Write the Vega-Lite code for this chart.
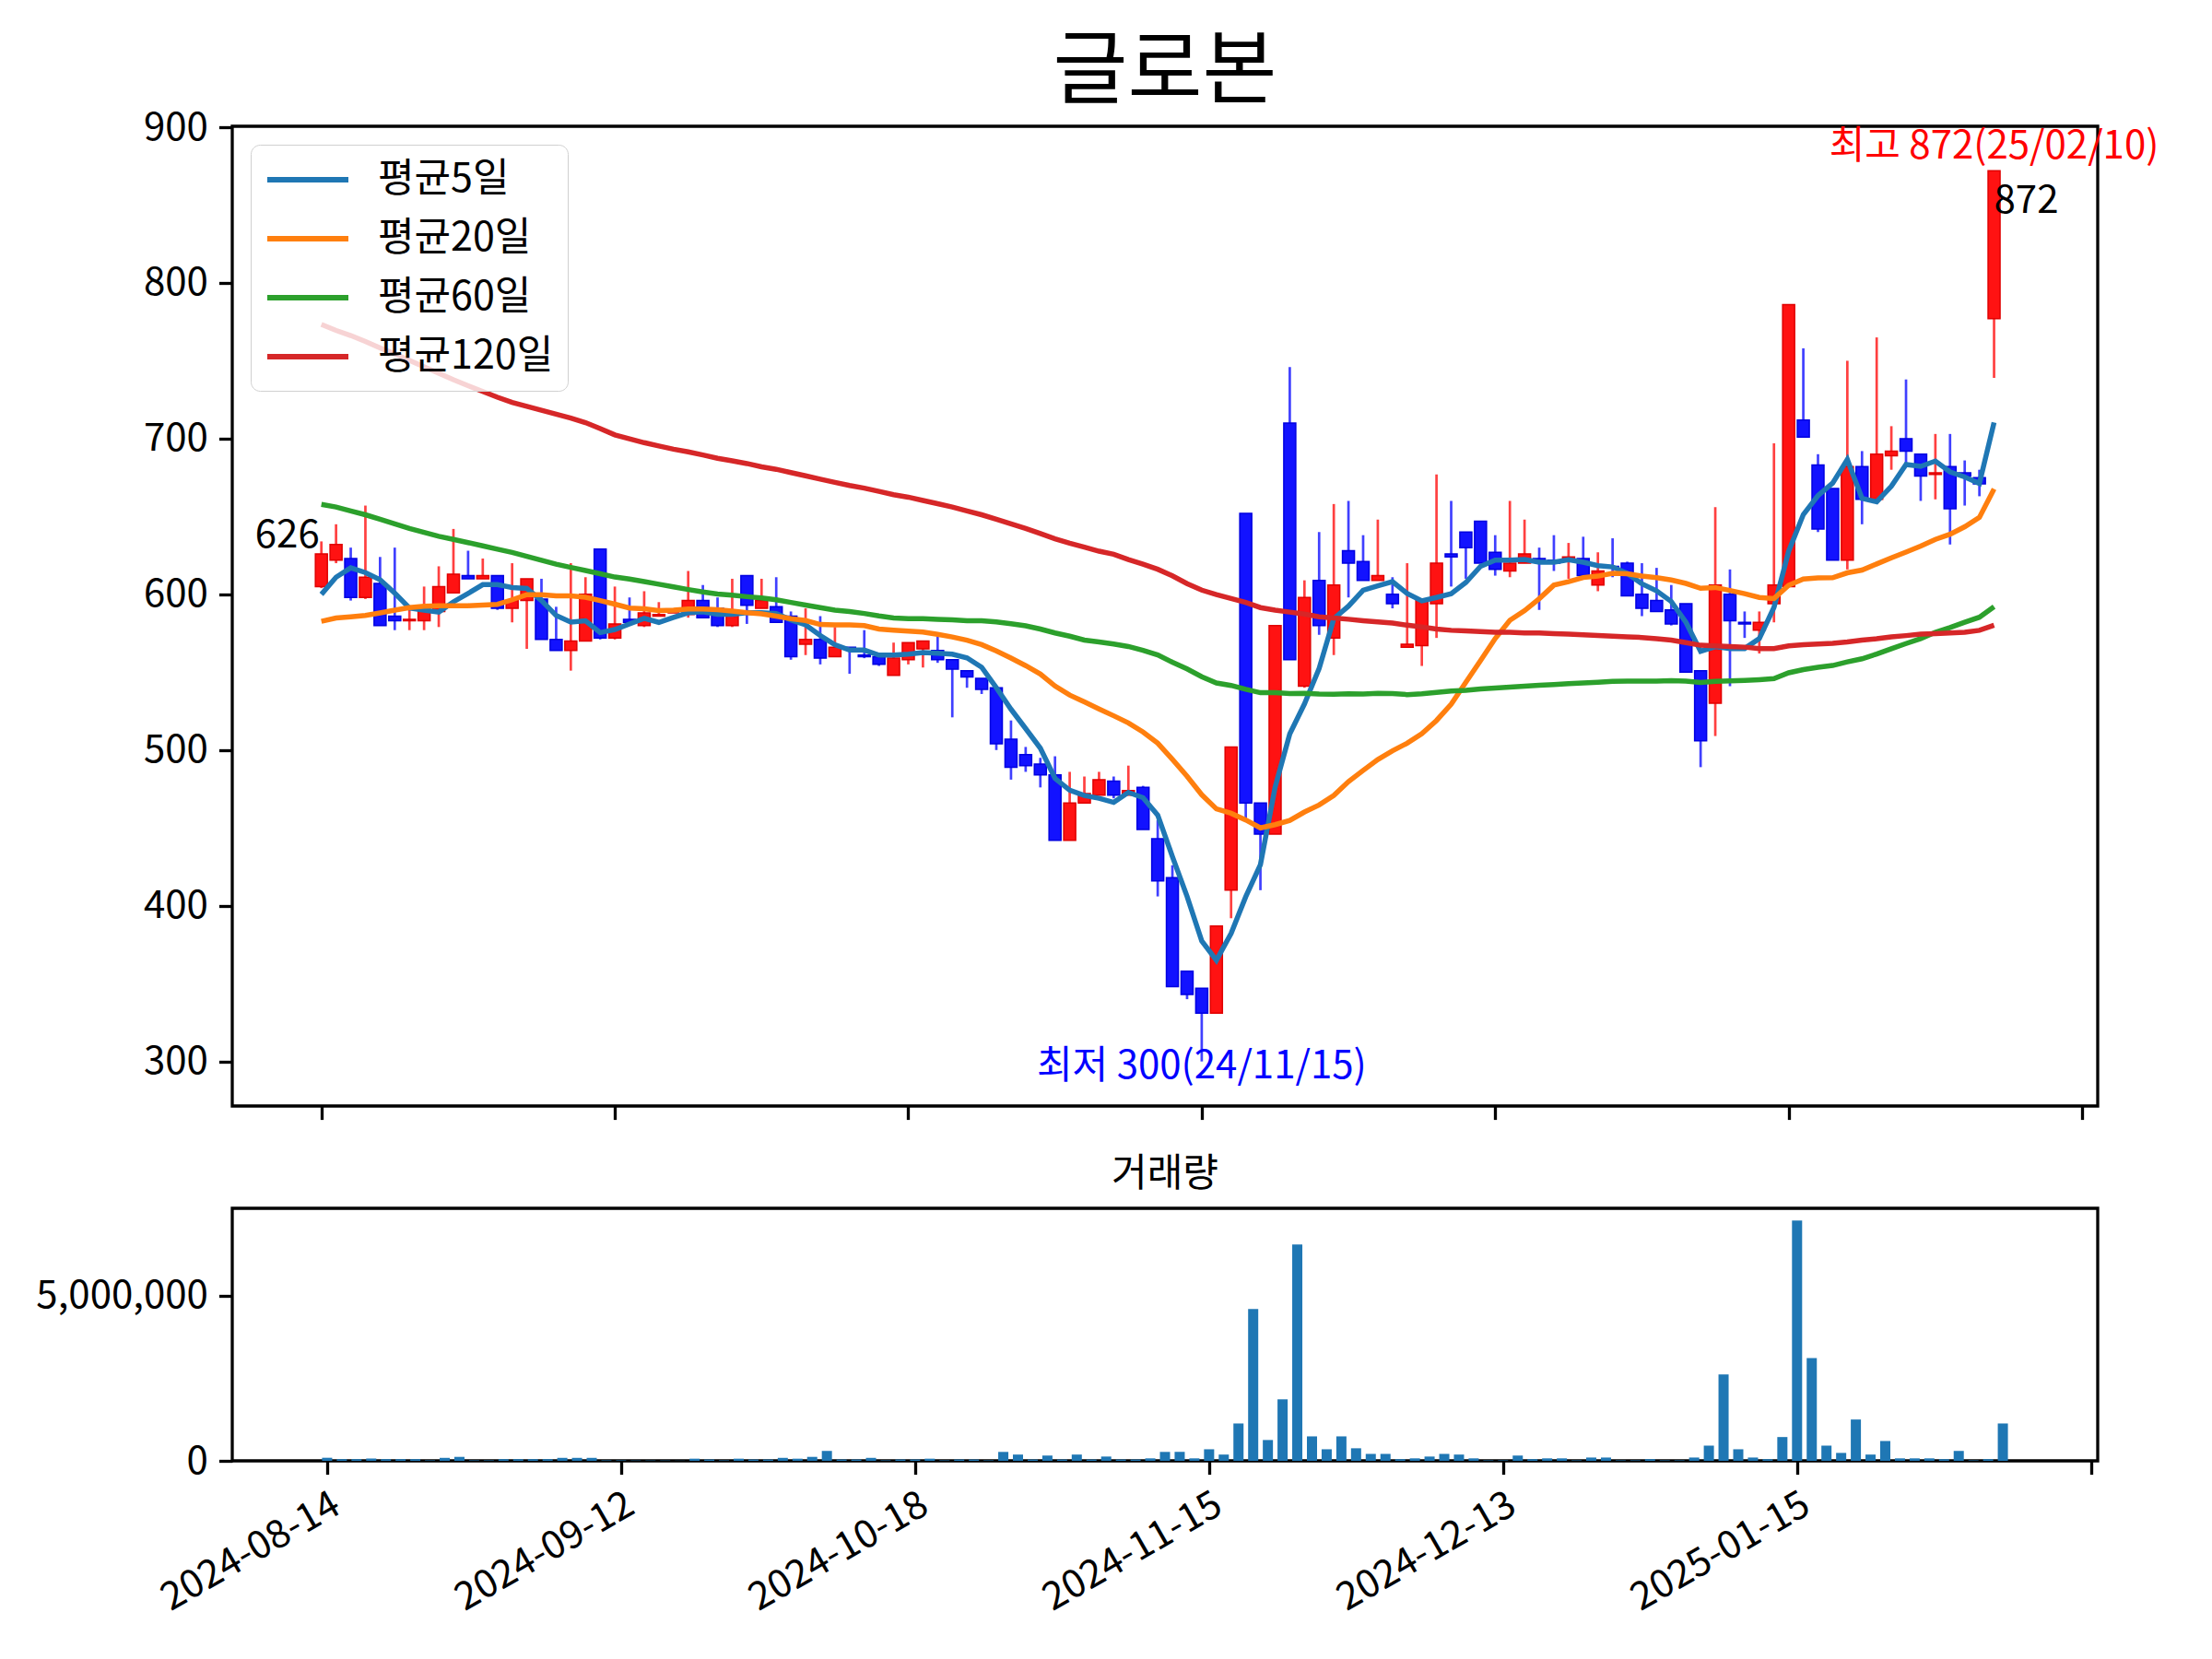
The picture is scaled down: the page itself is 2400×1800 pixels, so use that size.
{
  "$schema": "https://vega.github.io/schema/vega-lite/v6.json",
  "background": "white",
  "padding": {"left": 37, "top": 33, "right": 20, "bottom": 20},
  "config": {
    "font": "Noto Sans CJK KR",
    "view": {"stroke": "black", "strokeWidth": 3.3},
    "axis": {
      "grid": false,
      "domain": false,
      "ticks": true,
      "tickColor": "black",
      "tickWidth": 3.3,
      "tickSize": 14.6,
      "labelFont": "Noto Sans CJK KR",
      "labelFontSize": 42,
      "labelColor": "black",
      "labelPadding": 12,
      "labelLimit": 600,
      "title": null
    },
    "title": {"font": "Noto Sans CJK KR", "color": "black", "fontWeight": "normal"},
    "text": {"font": "Noto Sans CJK KR"}
  },
  "datasets": {
    "ohlc": [
      {"i":0,"open":605,"high":634,"low":604,"close":626,"volume":93000,"ma5":600,"ma20":582.7,"ma60":657.8,"ma120":773.3},
      {"i":1,"open":622,"high":645,"low":620,"close":632,"volume":50000,"ma5":611,"ma20":584.8,"ma60":656.1,"ma120":769.5},
      {"i":2,"open":623,"high":630,"low":596,"close":598,"volume":50000,"ma5":617,"ma20":585.6,"ma60":653.6,"ma120":766.2},
      {"i":3,"open":598,"high":657,"low":597,"close":611,"volume":70000,"ma5":614,"ma20":586.5,"ma60":651.1,"ma120":762.4},
      {"i":4,"open":607,"high":624,"low":580,"close":580,"volume":50000,"ma5":609.4,"ma20":588.1,"ma60":648.2,"ma120":758.2},
      {"i":5,"open":586,"high":630,"low":577,"close":583,"volume":50000,"ma5":600.8,"ma20":589.8,"ma60":645.3,"ma120":754.5},
      {"i":6,"open":583,"high":592,"low":577,"close":584,"volume":50000,"ma5":591.2,"ma20":591.5,"ma60":642.3,"ma120":750.3},
      {"i":7,"open":583,"high":605,"low":577,"close":591,"volume":15000,"ma5":589.8,"ma20":592.3,"ma60":639.8,"ma120":746.1},
      {"i":8,"open":589,"high":618,"low":579,"close":605,"volume":90000,"ma5":588.6,"ma20":592.7,"ma60":637.3,"ma120":742},
      {"i":9,"open":601,"high":642,"low":601,"close":613,"volume":120000,"ma5":595.2,"ma20":592.7,"ma60":635.3,"ma120":737.8},
      {"i":10,"open":612,"high":628,"low":610,"close":610,"volume":15000,"ma5":600.6,"ma20":592.7,"ma60":633.2,"ma120":734},
      {"i":11,"open":610,"high":623,"low":610,"close":612,"volume":15000,"ma5":606.2,"ma20":593.1,"ma60":631.1,"ma120":730.3},
      {"i":12,"open":612,"high":612,"low":590,"close":591,"volume":50000,"ma5":606.2,"ma20":593.6,"ma60":629,"ma120":726.6},
      {"i":13,"open":591,"high":620,"low":582,"close":596,"volume":50000,"ma5":604.4,"ma20":596.5,"ma60":626.9,"ma120":723.2},
      {"i":14,"open":596,"high":610,"low":565,"close":610,"volume":50000,"ma5":603.8,"ma20":599.8,"ma60":624.4,"ma120":720.7},
      {"i":15,"open":597,"high":610,"low":571,"close":571,"volume":50000,"ma5":596,"ma20":599.8,"ma60":621.9,"ma120":718.2},
      {"i":16,"open":571,"high":592,"low":564,"close":564,"volume":90000,"ma5":586.4,"ma20":599,"ma60":619.4,"ma120":715.7},
      {"i":17,"open":564,"high":620,"low":551,"close":570,"volume":90000,"ma5":582.2,"ma20":599,"ma60":617.3,"ma120":713.2},
      {"i":18,"open":570,"high":611,"low":570,"close":600,"volume":90000,"ma5":583,"ma20":598.1,"ma60":615.3,"ma120":710.3},
      {"i":19,"open":629,"high":629,"low":571,"close":572,"volume":15000,"ma5":575.4,"ma20":596,"ma60":613.2,"ma120":706.5},
      {"i":20,"open":572,"high":605,"low":571,"close":581,"volume":15000,"ma5":577.4,"ma20":593.7,"ma60":611.1,"ma120":702.4},
      {"i":21,"open":584,"high":598,"low":580,"close":582,"volume":10000,"ma5":581,"ma20":591.2,"ma60":609.8,"ma120":699.9},
      {"i":22,"open":580,"high":602,"low":579,"close":588,"volume":10000,"ma5":584.6,"ma20":590.7,"ma60":608.2,"ma120":697.4},
      {"i":23,"open":586,"high":595,"low":586,"close":587,"volume":10000,"ma5":582,"ma20":589.5,"ma60":606.5,"ma120":695.3},
      {"i":24,"open":588,"high":588,"low":588,"close":588,"volume":5000,"ma5":585.2,"ma20":589.9,"ma60":604.8,"ma120":693.2},
      {"i":25,"open":587,"high":615,"low":585,"close":596,"volume":65000,"ma5":588.2,"ma20":590.6,"ma60":603.1,"ma120":691.5},
      {"i":26,"open":596,"high":606,"low":585,"close":585,"volume":40000,"ma5":588.8,"ma20":590.6,"ma60":601.5,"ma120":689.5},
      {"i":27,"open":591,"high":598,"low":579,"close":580,"volume":15000,"ma5":587.2,"ma20":590.1,"ma60":600.2,"ma120":687.4},
      {"i":28,"open":580,"high":610,"low":579,"close":587,"volume":65000,"ma5":587.2,"ma20":589.2,"ma60":599.4,"ma120":685.7},
      {"i":29,"open":612,"high":612,"low":581,"close":593,"volume":40000,"ma5":588.2,"ma20":588.2,"ma60":598.5,"ma120":684},
      {"i":30,"open":591,"high":610,"low":591,"close":596,"volume":40000,"ma5":588.2,"ma20":587.5,"ma60":597.7,"ma120":681.9},
      {"i":31,"open":592,"high":611,"low":582,"close":582,"volume":90000,"ma5":587.6,"ma20":586,"ma60":596.5,"ma120":680.3},
      {"i":32,"open":586,"high":589,"low":558,"close":560,"volume":65000,"ma5":583.6,"ma20":584.4,"ma60":594.8,"ma120":678.2},
      {"i":33,"open":568,"high":591,"low":561,"close":571,"volume":120000,"ma5":580.4,"ma20":583.2,"ma60":593.1,"ma120":676.1},
      {"i":34,"open":571,"high":586,"low":555,"close":559,"volume":300000,"ma5":573.6,"ma20":580.6,"ma60":591.5,"ma120":674},
      {"i":35,"open":560,"high":579,"low":560,"close":566,"volume":40000,"ma5":567.6,"ma20":580.4,"ma60":589.8,"ma120":671.9},
      {"i":36,"open":566,"high":566,"low":549,"close":565,"volume":40000,"ma5":564.2,"ma20":580.4,"ma60":589,"ma120":669.9},
      {"i":37,"open":561,"high":577,"low":559,"close":560,"volume":90000,"ma5":564.2,"ma20":579.9,"ma60":587.7,"ma120":668.2},
      {"i":38,"open":560,"high":560,"low":554,"close":555,"volume":15000,"ma5":561,"ma20":577.7,"ma60":586.1,"ma120":666.1},
      {"i":39,"open":548,"high":569,"low":548,"close":559,"volume":40000,"ma5":561,"ma20":577,"ma60":584.8,"ma120":664},
      {"i":40,"open":558,"high":569,"low":555,"close":569,"volume":40000,"ma5":561.6,"ma20":576.4,"ma60":584.4,"ma120":662.4},
      {"i":41,"open":565,"high":570,"low":553,"close":570,"volume":65000,"ma5":562.6,"ma20":575.8,"ma60":584.4,"ma120":660.3},
      {"i":42,"open":564,"high":573,"low":556,"close":558,"volume":15000,"ma5":562.2,"ma20":574.3,"ma60":584,"ma120":658.2},
      {"i":43,"open":558,"high":558,"low":521,"close":552,"volume":40000,"ma5":561.6,"ma20":572.6,"ma60":583.6,"ma120":656.1},
      {"i":44,"open":551,"high":551,"low":540,"close":547,"volume":40000,"ma5":559.2,"ma20":570.5,"ma60":583.1,"ma120":653.6},
      {"i":45,"open":546,"high":546,"low":536,"close":539,"volume":15000,"ma5":553.2,"ma20":567.7,"ma60":583.1,"ma120":651.1},
      {"i":46,"open":540,"high":540,"low":500,"close":504,"volume":270000,"ma5":540,"ma20":563.6,"ma60":582.3,"ma120":648.2},
      {"i":47,"open":507,"high":519,"low":481,"close":489,"volume":190000,"ma5":526.2,"ma20":559.1,"ma60":581.1,"ma120":645.3},
      {"i":48,"open":497,"high":502,"low":486,"close":490,"volume":40000,"ma5":513.8,"ma20":554.2,"ma60":579.8,"ma120":642.3},
      {"i":49,"open":491,"high":495,"low":476,"close":484,"volume":160000,"ma5":501.2,"ma20":548.8,"ma60":577.7,"ma120":639},
      {"i":50,"open":484,"high":496,"low":442,"close":442,"volume":40000,"ma5":481.8,"ma20":541.1,"ma60":575.2,"ma120":635.7},
      {"i":51,"open":442,"high":486,"low":442,"close":466,"volume":190000,"ma5":474.2,"ma20":535.3,"ma60":573.1,"ma120":632.8},
      {"i":52,"open":466,"high":483,"low":466,"close":472,"volume":40000,"ma5":470.8,"ma20":530.9,"ma60":570.6,"ma120":630.3},
      {"i":53,"open":471,"high":486,"low":471,"close":481,"volume":130000,"ma5":469,"ma20":526.4,"ma60":569.4,"ma120":627.7},
      {"i":54,"open":480,"high":483,"low":469,"close":471,"volume":40000,"ma5":466.4,"ma20":522,"ma60":568.1,"ma120":625.7},
      {"i":55,"open":471,"high":490,"low":471,"close":474,"volume":40000,"ma5":472.8,"ma20":517.4,"ma60":566.5,"ma120":622.3},
      {"i":56,"open":476,"high":477,"low":449,"close":449,"volume":75000,"ma5":469.4,"ma20":511.6,"ma60":564,"ma120":619.4},
      {"i":57,"open":443,"high":455,"low":406,"close":416,"volume":270000,"ma5":458.2,"ma20":504.4,"ma60":561.1,"ma120":616.1},
      {"i":58,"open":418,"high":426,"low":348,"close":348,"volume":270000,"ma5":431.6,"ma20":494,"ma60":556.4,"ma120":611.9},
      {"i":59,"open":358,"high":358,"low":340,"close":343,"volume":75000,"ma5":406,"ma20":483.2,"ma60":552.1,"ma120":606.9},
      {"i":60,"open":347,"high":347,"low":300,"close":331,"volume":350000,"ma5":377.4,"ma20":471.3,"ma60":547.1,"ma120":602.7},
      {"i":61,"open":331,"high":387,"low":331,"close":387,"volume":190000,"ma5":365,"ma20":462.2,"ma60":543.1,"ma120":599.8},
      {"i":62,"open":410,"high":502,"low":392,"close":502,"volume":1130000,"ma5":382.2,"ma20":459.4,"ma60":541.5,"ma120":597.3},
      {"i":63,"open":652,"high":652,"low":456,"close":466,"volume":4590000,"ma5":405.8,"ma20":455.1,"ma60":539,"ma120":594.8},
      {"i":64,"open":466,"high":466,"low":410,"close":446,"volume":630000,"ma5":426.4,"ma20":450,"ma60":536.8,"ma120":591.5},
      {"i":65,"open":446,"high":580,"low":446,"close":580,"volume":1860000,"ma5":476.2,"ma20":452.1,"ma60":536.8,"ma120":589.8},
      {"i":66,"open":710,"high":746,"low":558,"close":558,"volume":6540000,"ma5":510.4,"ma20":454.8,"ma60":536.3,"ma120":588.6},
      {"i":67,"open":541,"high":609,"low":540,"close":598,"volume":740000,"ma5":529.6,"ma20":460.2,"ma60":536.4,"ma120":587.3},
      {"i":68,"open":609,"high":640,"low":574,"close":580,"volume":350000,"ma5":552.4,"ma20":464.7,"ma60":536,"ma120":585.6},
      {"i":69,"open":572,"high":658,"low":561,"close":606,"volume":740000,"ma5":584.4,"ma20":470.8,"ma60":535.9,"ma120":584.8},
      {"i":70,"open":628,"high":660,"low":598,"close":620,"volume":380000,"ma5":592.4,"ma20":479.7,"ma60":536.1,"ma120":584},
      {"i":71,"open":621,"high":638,"low":609,"close":609,"volume":210000,"ma5":602.6,"ma20":486.9,"ma60":536,"ma120":583.1},
      {"i":72,"open":609,"high":648,"low":609,"close":612,"volume":210000,"ma5":605.4,"ma20":493.9,"ma60":536.4,"ma120":582.3},
      {"i":73,"open":600,"high":611,"low":591,"close":594,"volume":50000,"ma5":608.2,"ma20":499.5,"ma60":536.3,"ma120":581.5},
      {"i":74,"open":566,"high":620,"low":566,"close":568,"volume":75000,"ma5":600.6,"ma20":504.4,"ma60":535.6,"ma120":580.2},
      {"i":75,"open":567,"high":596,"low":554,"close":596,"volume":130000,"ma5":595.8,"ma20":510.5,"ma60":536.1,"ma120":579},
      {"i":76,"open":594,"high":677,"low":572,"close":620,"volume":210000,"ma5":598,"ma20":519,"ma60":537,"ma120":577.7},
      {"i":77,"open":626,"high":660,"low":605,"close":624,"volume":190000,"ma5":600.4,"ma20":529.4,"ma60":537.9,"ma120":576.9},
      {"i":78,"open":640,"high":640,"low":610,"close":630,"volume":75000,"ma5":607.6,"ma20":543.5,"ma60":538.4,"ma120":576.5},
      {"i":79,"open":647,"high":647,"low":620,"close":620,"volume":15000,"ma5":618,"ma20":557.4,"ma60":539.2,"ma120":576.1},
      {"i":80,"open":627,"high":638,"low":612,"close":616,"volume":15000,"ma5":622,"ma20":571.6,"ma60":539.8,"ma120":575.7},
      {"i":81,"open":615,"high":660,"low":611,"close":620,"volume":160000,"ma5":622,"ma20":583.3,"ma60":540.4,"ma120":575.7},
      {"i":82,"open":620,"high":648,"low":620,"close":626,"volume":50000,"ma5":622.4,"ma20":589.5,"ma60":541,"ma120":575.2},
      {"i":83,"open":623,"high":630,"low":590,"close":621,"volume":75000,"ma5":620.6,"ma20":597.2,"ma60":541.6,"ma120":575.2},
      {"i":84,"open":622,"high":638,"low":615,"close":620,"volume":75000,"ma5":620.6,"ma20":605.9,"ma60":542.1,"ma120":574.8},
      {"i":85,"open":621,"high":633,"low":610,"close":624,"volume":15000,"ma5":622.2,"ma20":608.1,"ma60":542.6,"ma120":574.4},
      {"i":86,"open":623,"high":637,"low":611,"close":612,"volume":100000,"ma5":620.6,"ma20":610.8,"ma60":543.1,"ma120":574},
      {"i":87,"open":606,"high":627,"low":602,"close":615,"volume":100000,"ma5":618.4,"ma20":611.7,"ma60":543.6,"ma120":573.5},
      {"i":88,"open":618,"high":636,"low":611,"close":617,"volume":15000,"ma5":617.6,"ma20":613.5,"ma60":544.1,"ma120":573.1},
      {"i":89,"open":620,"high":621,"low":599,"close":599,"volume":15000,"ma5":613.4,"ma20":613.2,"ma60":544.2,"ma120":572.7},
      {"i":90,"open":600,"high":620,"low":586,"close":591,"volume":50000,"ma5":606.8,"ma20":611.7,"ma60":544.2,"ma120":572.3},
      {"i":91,"open":596,"high":617,"low":589,"close":589,"volume":15000,"ma5":602.2,"ma20":610.7,"ma60":544.3,"ma120":571.5},
      {"i":92,"open":590,"high":606,"low":580,"close":581,"volume":15000,"ma5":595.4,"ma20":609.2,"ma60":544.6,"ma120":570.6},
      {"i":93,"open":594,"high":594,"low":550,"close":550,"volume":100000,"ma5":582,"ma20":607,"ma60":544.3,"ma120":569},
      {"i":94,"open":551,"high":551,"low":489,"close":506,"volume":460000,"ma5":563.4,"ma20":603.9,"ma60":543.4,"ma120":567.3},
      {"i":95,"open":530,"high":656,"low":509,"close":606,"volume":2610000,"ma5":566.4,"ma20":604.4,"ma60":544.1,"ma120":566.9},
      {"i":96,"open":600,"high":616,"low":541,"close":583,"volume":350000,"ma5":565.2,"ma20":602.5,"ma60":544.4,"ma120":566.5},
      {"i":97,"open":582,"high":589,"low":572,"close":581,"volume":100000,"ma5":565.2,"ma20":600.4,"ma60":544.7,"ma120":566.1},
      {"i":98,"open":577,"high":589,"low":562,"close":582,"volume":50000,"ma5":571.6,"ma20":598,"ma60":545.2,"ma120":565.2},
      {"i":99,"open":594,"high":697,"low":582,"close":606,"volume":720000,"ma5":591.6,"ma20":597.3,"ma60":545.9,"ma120":565.2},
      {"i":100,"open":605,"high":786,"low":605,"close":786,"volume":7270000,"ma5":627.6,"ma20":605.8,"ma60":549.6,"ma120":566.9},
      {"i":101,"open":712,"high":758,"low":701,"close":701,"volume":3110000,"ma5":651.2,"ma20":609.8,"ma60":551.7,"ma120":567.7},
      {"i":102,"open":683,"high":690,"low":640,"close":642,"volume":460000,"ma5":663.4,"ma20":610.6,"ma60":553.1,"ma120":568.1},
      {"i":103,"open":668,"high":668,"low":622,"close":622,"volume":240000,"ma5":671.4,"ma20":610.7,"ma60":554.3,"ma120":568.6},
      {"i":104,"open":622,"high":750,"low":616,"close":682,"volume":1250000,"ma5":686.6,"ma20":613.8,"ma60":556.6,"ma120":569.4},
      {"i":105,"open":682,"high":692,"low":645,"close":661,"volume":190000,"ma5":661.6,"ma20":615.6,"ma60":558.6,"ma120":570.6},
      {"i":106,"open":661,"high":765,"low":661,"close":690,"volume":600000,"ma5":659.4,"ma20":619.5,"ma60":561.7,"ma120":571.5},
      {"i":107,"open":689,"high":708,"low":680,"close":692,"volume":75000,"ma5":669.4,"ma20":623.4,"ma60":565.1,"ma120":572.7},
      {"i":108,"open":700,"high":738,"low":684,"close":692,"volume":75000,"ma5":683.4,"ma20":627.1,"ma60":568.4,"ma120":573.5},
      {"i":109,"open":690,"high":690,"low":660,"close":676,"volume":75000,"ma5":682.2,"ma20":631,"ma60":571.6,"ma120":574.4},
      {"i":110,"open":677,"high":703,"low":661,"close":678,"volume":50000,"ma5":685.6,"ma20":635.3,"ma60":575.6,"ma120":574.8},
      {"i":111,"open":682,"high":703,"low":632,"close":655,"volume":300000,"ma5":678.6,"ma20":638.6,"ma60":578.7,"ma120":575.2},
      {"i":112,"open":678,"high":686,"low":657,"close":676,"volume":15000,"ma5":675.4,"ma20":643.4,"ma60":582.1,"ma120":575.7},
      {"i":113,"open":675,"high":680,"low":663,"close":671,"volume":50000,"ma5":671.2,"ma20":649.4,"ma60":585.3,"ma120":576.9},
      {"i":114,"open":777,"high":872,"low":739,"close":872,"volume":1130000,"ma5":710.4,"ma20":667.7,"ma60":592,"ma120":580.2}
    ]
  },
  "spacing": 111,
  "bounds": "flush",
  "vconcat": [
    {
      "width": 2024,
      "height": 1063,
      "title": {"text": "글로본", "fontSize": 88, "offset": -6},
      "data": {"name": "ohlc"},
      "encoding": {
        "x": {
          "field": "i",
          "type": "quantitative",
          "scale": {"domain": [-5.76, 120.75], "nice": false, "zero": false},
          "axis": {"values": [0, 20, 40, 60, 80, 100, 120], "labels": false}
        }
      },
      "layer": [
        {
          "mark": {"type": "rule", "strokeWidth": 2.7},
          "encoding": {
            "y": {
              "field": "low",
              "type": "quantitative",
              "scale": {"domain": [271.4, 900.6], "nice": false, "zero": false},
              "axis": {"values": [300, 400, 500, 600, 700, 800, 900]}
            },
            "y2": {"field": "high"},
            "color": {
              "condition": {"test": "datum.close >= datum.open", "value": "#ff4040"},
              "value": "#4040ff"
            }
          }
        },
        {
          "mark": {"type": "bar", "width": 13, "strokeWidth": 1.5},
          "encoding": {
            "y": {"field": "open", "type": "quantitative"},
            "y2": {"field": "close"},
            "fill": {
              "condition": {"test": "datum.close >= datum.open", "value": "#ff1212"},
              "value": "#1212ff"
            },
            "stroke": {
              "condition": {"test": "datum.close >= datum.open", "value": "#e00000"},
              "value": "#0000e0"
            }
          }
        },
        {
          "transform": [{"fold": ["ma5", "ma20", "ma60", "ma120"], "as": ["ma", "val"]}],
          "mark": {"type": "line", "strokeWidth": 5.5},
          "encoding": {
            "y": {"field": "val", "type": "quantitative"},
            "color": {
              "field": "ma",
              "type": "nominal",
              "scale": {
                "domain": ["ma5", "ma20", "ma60", "ma120"],
                "range": ["#1f77b4", "#ff7f0e", "#2ca02c", "#d62728"]
              },
              "legend": {
                "title": null,
                "orient": "top-left",
                "offset": 20,
                "padding": 15,
                "rowPadding": 19,
                "symbolType": "M-1,0H3.4",
                "symbolSize": 1600,
                "symbolStrokeWidth": 6,
                "labelFont": "Noto Sans CJK KR",
                "labelFontSize": 43,
                "labelColor": "black",
                "labelOffset": 77,
                "labelLimit": 600,
                "fillColor": "rgba(255,255,255,0.8)",
                "strokeColor": "#d0d0d0",
                "cornerRadius": 10,
                "labelExpr": "datum.label == 'ma5' ? '평균5일' : datum.label == 'ma20' ? '평균20일' : datum.label == 'ma60' ? '평균60일' : '평균120일'"
              }
            },
            "strokeWidth": {
              "condition": {"test": "datum.ma == 'ma5'", "value": 7},
              "value": 5.5
            }
          }
        },
        {
          "transform": [{"filter": "datum.i == 0"}],
          "mark": {"type": "text", "align": "right", "baseline": "middle", "dx": -2, "dy": -20, "fontSize": 42, "color": "black"},
          "encoding": {
            "y": {"field": "close", "type": "quantitative"},
            "text": {"field": "close", "type": "quantitative"}
          }
        },
        {
          "transform": [{"filter": "datum.i == 114"}],
          "mark": {"type": "text", "align": "left", "baseline": "middle", "dx": 0, "dy": 33, "fontSize": 42, "color": "black"},
          "encoding": {
            "y": {"field": "close", "type": "quantitative"},
            "text": {"field": "close", "type": "quantitative"}
          }
        },
        {
          "transform": [{"filter": "datum.i == 114"}],
          "mark": {"type": "text", "align": "center", "baseline": "middle", "dy": -26, "fontSize": 42, "color": "red"},
          "encoding": {
            "y": {"field": "high", "type": "quantitative"},
            "text": {"value": "최고 872(25/02/10)"}
          }
        },
        {
          "transform": [{"filter": "datum.i == 60"}],
          "mark": {"type": "text", "align": "center", "baseline": "middle", "dy": 5, "fontSize": 42, "color": "blue"},
          "encoding": {
            "y": {"field": "low", "type": "quantitative"},
            "text": {"value": "최저 300(24/11/15)"}
          }
        }
      ]
    },
    {
      "width": 2024,
      "height": 274,
      "title": {"text": "거래량", "fontSize": 42, "offset": 15},
      "data": {"name": "ohlc"},
      "mark": {"type": "bar", "width": 11, "color": "#1f77b4"},
      "encoding": {
        "x": {
          "field": "i",
          "type": "quantitative",
          "scale": {"domain": [-6.14, 120.14], "nice": false, "zero": false},
          "axis": {
            "values": [0, 20, 40, 60, 80, 100, 120],
            "labelAngle": -30,
            "labelAlign": "right",
            "labelBaseline": "top",
            "labelDx": -9,
            "labelDy": -4,
            "labelExpr": "datum.value == 0 ? '2024-08-14' : datum.value == 20 ? '2024-09-12' : datum.value == 40 ? '2024-10-18' : datum.value == 60 ? '2024-11-15' : datum.value == 80 ? '2024-12-13' : datum.value == 100 ? '2025-01-15' : ''"
          }
        },
        "y": {
          "field": "volume",
          "type": "quantitative",
          "scale": {"domain": [0, 7637000], "nice": false},
          "axis": {"values": [0, 5000000], "labelExpr": "format(datum.value, ',')"}
        }
      }
    }
  ]
}
